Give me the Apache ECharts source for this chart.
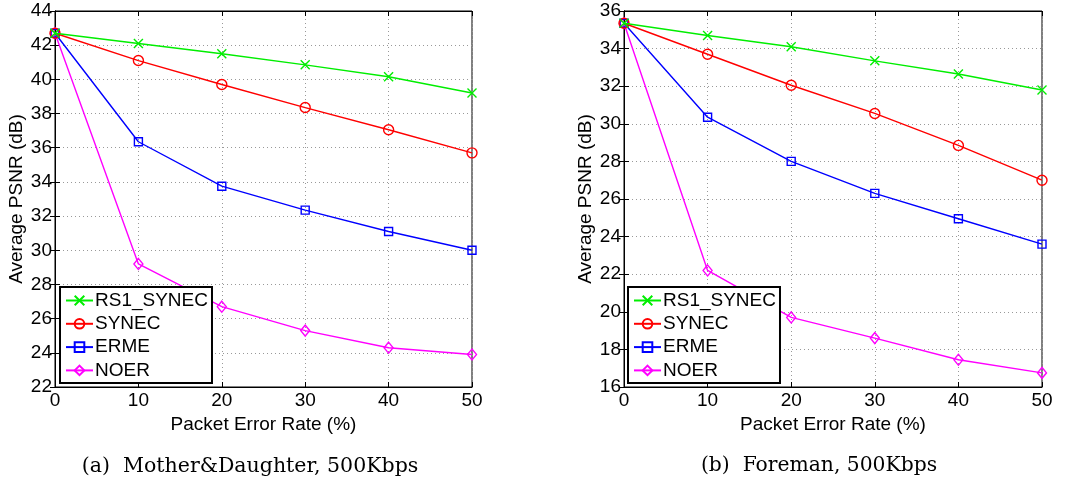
<!DOCTYPE html>
<html>
<head>
<meta charset="utf-8">
<script src="https://cdn.jsdelivr.net/npm/echarts@6/dist/echarts.min.js"></script>
<style>
html,body{margin:0;padding:0;background:#fff;}
#chart{width:1073px;height:481px;}
</style>
</head>
<body>
<div id="chart"></div>
<script>
const perRates = [0, 10, 20, 30, 40, 50];
const seriesNames = ['RS1_SYNEC', 'SYNEC', 'ERME', 'NOER'];

// (a) Mother&Daughter
const mdRS1 = [42.7, 42.1, 41.5, 40.85, 40.15, 39.2];
const mdSYNEC = [42.7, 41.1, 39.7, 38.35, 37.05, 35.7];
const mdERME = [42.7, 36.35, 33.75, 32.35, 31.1, 30.0];
const mdNOER = [42.7, 29.2, 26.7, 25.3, 24.3, 23.9];

// (b) Foreman
const fmRS1 = [35.35, 34.7, 34.1, 33.35, 32.65, 31.8];
const fmSYNEC = [35.35, 33.7, 32.05, 30.55, 28.85, 27.0];
const fmERME = [35.35, 30.35, 28.0, 26.3, 24.95, 23.6];
const fmNOER = [35.35, 22.2, 19.7, 18.6, 17.45, 16.75];

const captions = ['(a)  Mother&Daughter, 500Kbps', '(b)  Foreman, 500Kbps'];
const xName = 'Packet Error Rate (%)';
const yName = 'Average PSNR (dB)';

const colors = ['#00ee00', '#ff0000', '#0000ff', '#ff00ff'];
const symbols = ['path://M0,0L10,10M10,0L0,10', 'circle', 'rect', 'diamond'];
const symbolSizes = [[9, 9], 10, 8, [9, 11]];

const font = 'Liberation Sans, Arial, Helvetica, sans-serif';

function zip(xs, ys) { return xs.map((x, i) => [x, ys[i]]); }

const grids = [
  {left: 55, top: 11, width: 417, height: 376},
  {left: 624, top: 11, width: 418, height: 376}
];

const yRanges = [[22, 44], [16, 36]];

const xAxes = [], yAxes = [];
grids.forEach((g, gi) => {
  xAxes.push({
    type: 'value', gridIndex: gi, min: 0, max: 50, interval: 10,
    name: xName, nameLocation: 'middle', nameGap: 25,
    nameTextStyle: {fontFamily: font, fontSize: 19, color: '#000'},
    axisLine: {show: true, lineStyle: {color: '#000', width: 1}},
    axisTick: {show: true, inside: true, length: 5, lineStyle: {color: '#000'}},
    axisLabel: {fontFamily: font, fontSize: 19, color: '#000', margin: 4},
    splitLine: {show: true, lineStyle: {color: '#999', type: [1, 3], width: 1}}
  });
  xAxes.push({
    type: 'value', gridIndex: gi, min: 0, max: 50, interval: 10, position: 'top',
    axisLine: {show: true, lineStyle: {color: '#000', width: 1}},
    axisTick: {show: true, inside: true, length: 5, lineStyle: {color: '#000'}},
    axisLabel: {show: false}, splitLine: {show: false}
  });
  yAxes.push({
    type: 'value', gridIndex: gi, min: yRanges[gi][0], max: yRanges[gi][1], interval: 2,
    name: yName, nameLocation: 'middle', nameGap: 29,
    nameTextStyle: {fontFamily: font, fontSize: 19, color: '#000'},
    axisLine: {show: true, lineStyle: {color: '#000', width: 1}},
    axisTick: {show: true, inside: true, length: 5, lineStyle: {color: '#000'}},
    axisLabel: {fontFamily: font, fontSize: 19, color: '#000', margin: 3},
    splitLine: {show: true, lineStyle: {color: '#999', type: [1, 3], width: 1}}
  });
  yAxes.push({
    type: 'value', gridIndex: gi, min: yRanges[gi][0], max: yRanges[gi][1], interval: 2, position: 'right',
    axisLine: {show: true, lineStyle: {color: '#000', width: 1}},
    axisTick: {show: true, inside: true, length: 5, lineStyle: {color: '#000'}},
    axisLabel: {show: false}, splitLine: {show: false}
  });
});

const dataSets = [
  [mdRS1, mdSYNEC, mdERME, mdNOER],
  [fmRS1, fmSYNEC, fmERME, fmNOER]
];

const series = [];
dataSets.forEach((set, gi) => {
  set.forEach((vals, si) => {
    series.push({
      name: seriesNames[si], type: 'line',
      xAxisIndex: gi * 2, yAxisIndex: gi * 2,
      data: zip(perRates, vals),
      symbol: symbols[si], symbolSize: symbolSizes[si],
      showSymbol: true, animation: false,
      lineStyle: {color: colors[si], width: 1.4},
      itemStyle: {color: 'rgba(255,255,255,0)', borderColor: colors[si], borderWidth: 1.4},
      emphasis: {disabled: true},
      z: 10 - si
    });
  });
});

const legends = [
  {left: 60, top: 287},
  {left: 628, top: 287}
].map(p => ({
  data: seriesNames, orient: 'vertical', left: p.left, top: p.top,
  itemWidth: 27, itemHeight: 12, itemGap: 4.3,
  padding: [4, 4, 3, 5],
  borderColor: '#000', borderWidth: 2, backgroundColor: '#fff',
  textStyle: {fontFamily: font, fontSize: 19, color: '#000', padding: [0, 0, 0, -3]},
  selectedMode: false, z: 20
}));

const titles = [
  {text: captions[0], left: 245, top: 451, size: 20.5},
  {text: captions[1], left: 814, top: 451, size: 20.3}
].map(t => ({
  text: t.text, left: t.left, top: t.top, textAlign: 'center',
  textStyle: {fontFamily: 'DejaVu Serif, serif', fontSize: t.size, fontWeight: 'normal', color: '#000'}
}));

const chart = echarts.init(document.getElementById('chart'), null, {renderer: 'canvas'});
chart.setOption({
  animation: false,
  backgroundColor: '#fff',
  title: titles,
  legend: legends,
  grid: grids.map(g => Object.assign({show: true, borderColor: '#000', borderWidth: 1, backgroundColor: '#fff'}, g)),
  xAxis: xAxes,
  yAxis: yAxes,
  series: series
});
</script>
</body>
</html>
